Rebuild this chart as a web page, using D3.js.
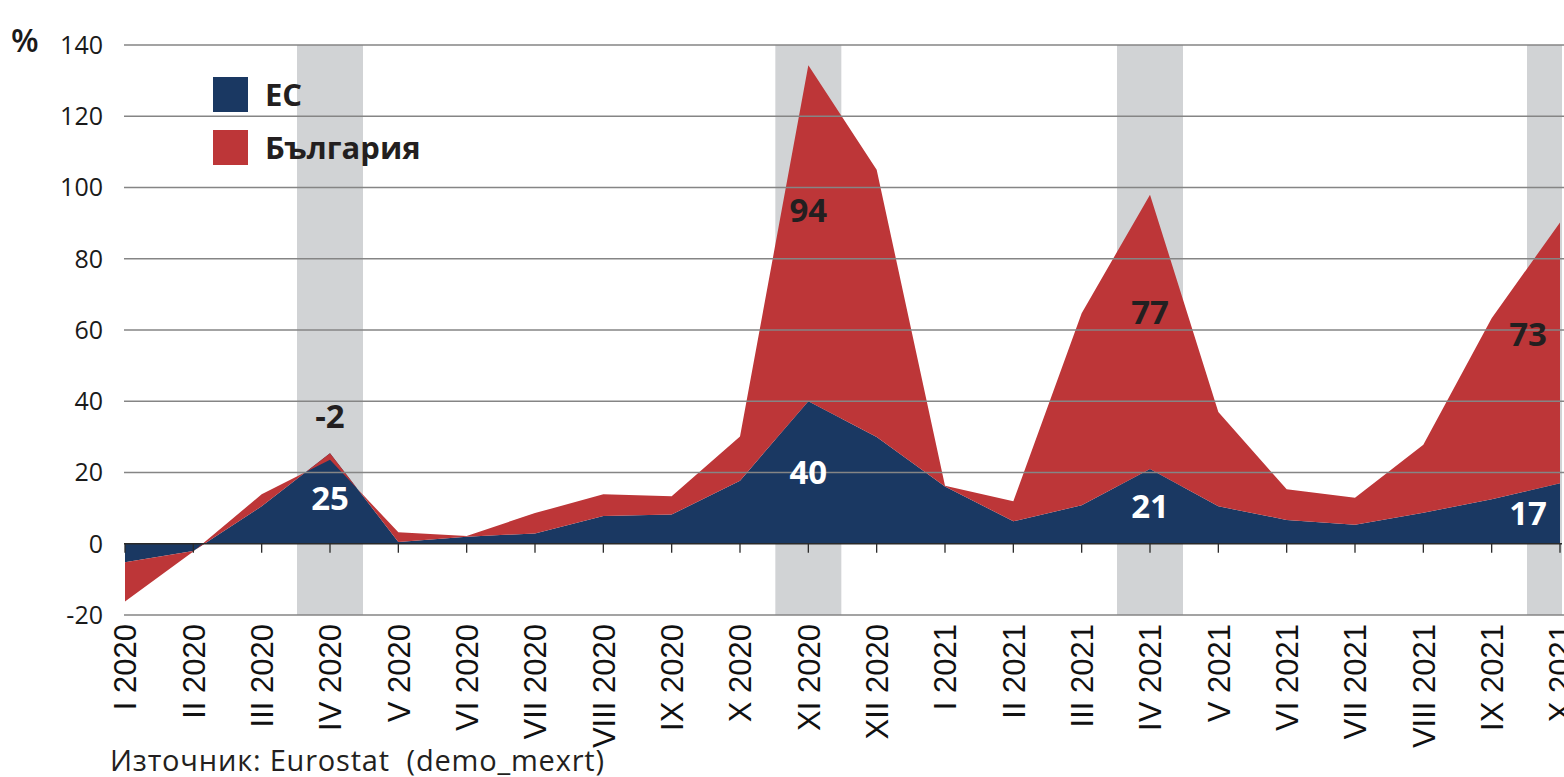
<!DOCTYPE html>
<html>
<head>
<meta charset="utf-8">
<script src="https://cdn.jsdelivr.net/npm/d3@7"></script>
<style>
  body { margin: 0; background: #fff; overflow: hidden; }
</style>
</head>
<body>
<div id="wrapper"></div>
<script>
// месеци (категории)
const months = ["I 2020", "II 2020", "III 2020", "IV 2020", "V 2020", "VI 2020", "VII 2020", "VIII 2020",
  "IX 2020", "X 2020", "XI 2020", "XII 2020", "I 2021", "II 2021", "III 2021", "IV 2021", "V 2021",
  "VI 2021", "VII 2021", "VIII 2021", "IX 2021", "X 2021"];

// ЕС, %
const euValues = [-5.2, -2.0, 10.5, 25.4, 0.5, 2.0, 2.9, 7.8, 8.2, 17.7, 40.0, 30.0,
  16.1, 6.3, 10.8, 21.0, 10.5, 6.7, 5.3, 8.7, 12.5, 17.0];

// България (натрупано върху ЕС)
const bgValues = [-11.0, -0.2, 3.4, -1.8, 2.7, 0.2, 5.7, 6.1, 5.1, 12.4, 94.3, 75.0,
  0.2, 5.6, 53.9, 77.0, 26.5, 8.6, 7.6, 19.1, 50.8, 73.2];

const highlighted = ["IV 2020", "XI 2020", "IV 2021", "X 2021"];
const yTicks = [-20, 0, 20, 40, 60, 80, 100, 120, 140];
const legendItems = ["ЕС", "България"];
const sourceText = "Източник: Eurostat  (demo_mexrt)";

const width = 1564, height = 777;
const plot = { left: 124, right: 1562, top: 45, bottom: 615 };

const blue = "#1a3862", red = "#bd3638", band = "#d1d3d5";

const data = months.map((m, i) => ({ m, eu: euValues[i], bg: bgValues[i], cum: euValues[i] + bgValues[i] }));

const svg = d3.select("#wrapper").append("svg")
  .attr("width", width)
  .attr("height", height);

const x = d3.scalePoint().domain(months).range([125, 1560]);
const y = d3.scaleLinear().domain([-20, 140]).range([plot.bottom, plot.top]);

svg.append("clipPath").attr("id", "clip")
  .append("rect")
  .attr("x", plot.left).attr("y", 0)
  .attr("width", plot.right - plot.left).attr("height", height);

const g = svg.append("g").attr("clip-path", "url(#clip)");

// сиви ленти
g.selectAll(".band")
  .data(highlighted)
  .enter().append("rect")
  .attr("x", d => x(d) - 33)
  .attr("y", y(140))
  .attr("width", 66)
  .attr("height", y(-20) - y(140))
  .attr("fill", band);

// хоризонтални линии
svg.append("g")
  .selectAll("line")
  .data(yTicks.filter(d => d !== 0))
  .enter().append("line")
  .attr("x1", plot.left).attr("x2", width)
  .attr("y1", d => y(d)).attr("y2", d => y(d))
  .attr("stroke", "#858585")
  .attr("stroke-width", 1.3);

const areaEU = d3.area()
  .x(d => x(d.m))
  .y0(y(0))
  .y1(d => y(d.eu));

const areaBG = d3.area()
  .x(d => x(d.m))
  .y0(d => y(d.eu))
  .y1(d => y(d.cum));

g.append("path").datum(data).attr("d", areaEU).attr("fill", blue);
g.append("path").datum(data).attr("d", areaBG).attr("fill", red);

// нулева линия и чертички
svg.append("line")
  .attr("x1", plot.left).attr("x2", plot.right)
  .attr("y1", y(0)).attr("y2", y(0))
  .attr("stroke", "#2a2a2a").attr("stroke-width", 1.5);

svg.append("g")
  .selectAll("line")
  .data(months)
  .enter().append("line")
  .attr("x1", d => x(d)).attr("x2", d => x(d))
  .attr("y1", y(0)).attr("y2", y(0) + 9)
  .attr("stroke", "#2a2a2a").attr("stroke-width", 1.3);

// ос Y
svg.append("g")
  .selectAll("text")
  .data(yTicks)
  .enter().append("text")
  .attr("x", 103)
  .attr("y", d => y(d))
  .attr("dy", "0.35em")
  .attr("text-anchor", "end")
  .style("font-family", "'Open Sans', sans-serif")
  .style("font-size", "25px")
  .style("fill", "#1a1a1a")
  .text(d => d);

svg.append("text")
  .attr("x", 11).attr("y", 41)
  .attr("dy", "0.35em")
  .style("font-family", "'Open Sans', sans-serif")
  .style("font-size", "32px")
  .style("font-weight", 600)
  .style("fill", "#1a1a1a")
  .text("%");

// ос X
svg.append("g")
  .selectAll("text")
  .data(months)
  .enter().append("text")
  .attr("transform", d => `translate(${x(d)},${plot.bottom + 9}) rotate(-90)`)
  .attr("text-anchor", "end")
  .attr("dy", "0.36em")
  .style("font-family", "'Liberation Sans', Arial, sans-serif")
  .style("font-size", "31px")
  .style("fill", "#111")
  .text(d => d);

// етикети
const labelFont = sel => sel
  .attr("text-anchor", "middle")
  .attr("dy", "0.36em")
  .style("font-family", "'Open Sans', sans-serif")
  .style("font-size", "33px")
  .style("font-weight", 700);

const labelled = data.filter(d => highlighted.includes(d.m));
const lx = d => Math.min(x(d.m), plot.right - 34);

svg.append("g").selectAll("text")
  .data(labelled)
  .enter().append("text")
  .attr("x", lx)
  .attr("y", d => y(d.eu * 0.5))
  .call(labelFont)
  .style("fill", "#fff")
  .text(d => Math.round(d.eu));

svg.append("g").selectAll("text")
  .data(labelled)
  .enter().append("text")
  .attr("x", lx)
  .attr("y", d => d.bg > 0 ? y(d.eu + d.bg * 0.57) : y(Math.max(d.eu, d.cum)) - 37)
  .call(labelFont)
  .style("fill", "#231f20")
  .text(d => Math.round(d.bg));

// легенда
const legend = svg.append("g");
legendItems.forEach((name, i) => {
  legend.append("rect")
    .attr("x", 213).attr("y", 77 + i * 53)
    .attr("width", 35).attr("height", 35)
    .attr("fill", i === 0 ? blue : red);
  legend.append("text")
    .attr("x", 265).attr("y", 77 + i * 53 + 18)
    .attr("dy", "0.36em")
    .style("font-family", "'Open Sans', sans-serif")
    .style("font-size", "31px")
    .style("font-weight", 700)
    .style("fill", "#231f20")
    .text(name);
});

svg.append("text")
  .attr("x", 110).attr("y", 771)
  .style("font-family", "'Open Sans', sans-serif")
  .style("font-size", "29px")
  .style("letter-spacing", "0.8px")
  .style("white-space", "pre")
  .style("fill", "#231f20")
  .text(sourceText);
</script>
</body>
</html>
